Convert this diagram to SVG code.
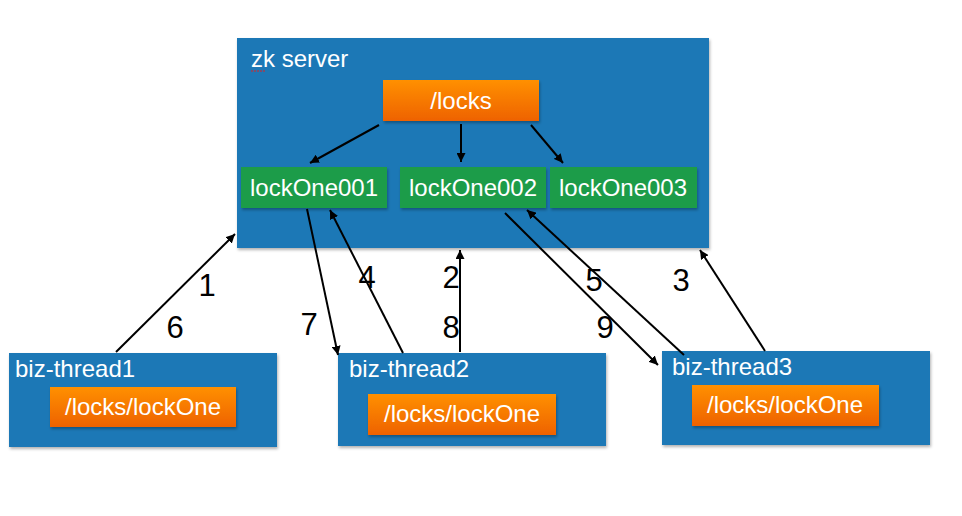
<svg xmlns="http://www.w3.org/2000/svg" width="962" height="516" viewBox="0 0 962 516">
<defs>
<linearGradient id="og" x1="0" y1="0" x2="0" y2="1">
<stop offset="0" stop-color="#FF9000"/>
<stop offset="1" stop-color="#EE6200"/>
</linearGradient>
<filter id="sh" x="-10%" y="-10%" width="130%" height="140%">
<feDropShadow dx="1" dy="2" stdDeviation="1.5" flood-color="#000" flood-opacity="0.3"/>
</filter>
<marker id="ah" viewBox="0 0 10 10" refX="10" refY="5" markerWidth="9" markerHeight="9" markerUnits="userSpaceOnUse" orient="auto">
<path d="M0,0 L10,5 L0,10 z" fill="#000"/>
</marker>
</defs>
<style>
.blue{fill:#1A78B6;filter:url(#sh)}
.org{fill:url(#og);filter:url(#sh)}
.grn{fill:#1E9C4A;filter:url(#sh)}
.t{font-family:"Liberation Sans",Arial,sans-serif;fill:#fff;font-size:24px}
.tc{font-family:"Liberation Sans",Arial,sans-serif;fill:#fff;font-size:24px;text-anchor:middle}
.n{font-family:"Liberation Sans",Arial,sans-serif;fill:#000;font-size:31px;text-anchor:middle}
.c{stroke:#000;stroke-width:2;fill:none;marker-end:url(#ah)}
</style>
<rect width="962" height="516" fill="#fff"/>
<g id="zk-server">
<rect class="blue" x="237" y="38" width="472" height="210"/>
<text class="t" x="251" y="67">zk server</text>
<path d="M251,71 h15" stroke="#d22" stroke-width="1" stroke-dasharray="2,1"/>
</g>
<g id="locks">
<rect class="org" x="383" y="80" width="156" height="41"/>
<text class="tc" x="461" y="109">/locks</text>
</g>
<g id="lockOne001">
<rect class="grn" x="241" y="167" width="146" height="41"/>
<text class="tc" x="314" y="196">lockOne001</text>
</g>
<g id="lockOne002">
<rect class="grn" x="400" y="167" width="146" height="41"/>
<text class="tc" x="473" y="196">lockOne002</text>
</g>
<g id="lockOne003">
<rect class="grn" x="550" y="167" width="147" height="41"/>
<text class="tc" x="623" y="196">lockOne003</text>
</g>
<g id="biz-thread1">
<rect class="blue" x="9" y="353" width="268" height="94"/>
<text class="t" x="15" y="377">biz-thread1</text>
<rect class="org" x="50" y="387" width="186" height="40"/>
<text class="tc" x="143" y="415">/locks/lockOne</text>
</g>
<g id="biz-thread2">
<rect class="blue" x="338" y="353" width="268" height="93"/>
<text class="t" x="349" y="377">biz-thread2</text>
<rect class="org" x="368" y="394" width="188" height="41"/>
<text class="tc" x="462" y="422">/locks/lockOne</text>
</g>
<g id="biz-thread3">
<rect class="blue" x="662" y="351" width="268" height="94"/>
<text class="t" x="672" y="375">biz-thread3</text>
<rect class="org" x="692" y="385" width="187" height="41"/>
<text class="tc" x="785" y="413">/locks/lockOne</text>
</g>
<g id="connectors">
<line class="c" x1="379" y1="125" x2="310" y2="163"/>
<line class="c" x1="461" y1="124" x2="461" y2="162"/>
<line class="c" x1="531" y1="125" x2="563" y2="163"/>
<line class="c" x1="116" y1="352" x2="235" y2="234"/>
<line class="c" x1="307" y1="209" x2="338" y2="355"/>
<line class="c" x1="403" y1="353" x2="330" y2="210"/>
<line class="c" x1="460" y1="352" x2="460" y2="250"/>
<line class="c" x1="684" y1="355" x2="527" y2="210"/>
<line class="c" x1="505" y1="213" x2="658" y2="365"/>
<line class="c" x1="765" y1="351" x2="700" y2="250"/>
</g>
<g id="labels">
<text class="n" x="207" y="296">1</text>
<text class="n" x="175" y="338">6</text>
<text class="n" x="309" y="335">7</text>
<text class="n" x="367" y="288">4</text>
<text class="n" x="451" y="288">2</text>
<text class="n" x="451" y="338">8</text>
<text class="n" x="594" y="291">5</text>
<text class="n" x="681" y="291">3</text>
<text class="n" x="605" y="338">9</text>
</g>
</svg>
